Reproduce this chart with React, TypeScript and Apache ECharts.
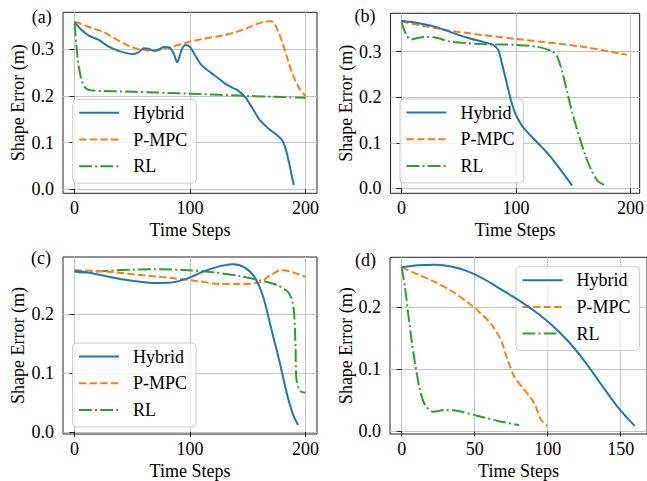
import React, { useEffect, useRef } from "react";
import * as echarts from "echarts";

const FONT = "'Liberation Serif', 'Times New Roman', Times, serif";
const COLORS = ["#1f77b4", "#ff7f0e", "#2ca02c"];
const seriesNames = ["Hybrid", "P-MPC", "RL"];
const panelLabels = ["(a)", "(b)", "(c)", "(d)"];

// tick labels
const xTicksA = [0, 100, 200];
const xTicksB = [0, 100, 200];
const xTicksC = [0, 100, 200];
const xTicksD = [0, 50, 100, 150];
const yTicksA = [0, 0.1, 0.2, 0.3];
const yTicksB = [0, 0.1, 0.2, 0.3];
const yTicksC = [0, 0.1, 0.2];
const yTicksD = [0, 0.1, 0.2];

// (a)
const aHybrid = [[0,0.358],[5,0.344],[12,0.330],[21,0.320],[30,0.305],[40,0.295],[50,0.290],[55,0.293],[60,0.302],[64,0.301],[68,0.297],[73,0.300],[78,0.305],[83,0.302],[86,0.290],[89,0.272],[91,0.285],[93,0.300],[96,0.309],[100,0.305],[105,0.285],[110,0.266],[118,0.250],[125,0.237],[130,0.227],[135,0.220],[140,0.214],[144,0.207],[148,0.197],[152,0.182],[156,0.166],[160,0.150],[165,0.137],[170,0.126],[175,0.117],[180,0.104],[183,0.085],[186,0.055],[188,0.030],[190,0.009]];
const aPMPC = [[0,0.360],[10,0.350],[25,0.337],[40,0.316],[53,0.302],[62,0.298],[69,0.297],[78,0.302],[85,0.306],[98,0.315],[112,0.323],[127,0.329],[140,0.337],[150,0.346],[158,0.354],[164,0.359],[170,0.360],[173,0.356],[176,0.340],[180,0.315],[185,0.275],[190,0.240],[195,0.215],[200,0.200]];
const aRL = [[0,0.355],[1.5,0.310],[3,0.275],[5,0.245],[7,0.228],[10,0.216],[14,0.212],[50,0.209],[100,0.205],[150,0.200],[200,0.196]];

// (b)
const bHybrid = [[0,0.368],[14,0.363],[29,0.355],[43,0.343],[57,0.331],[72,0.321],[80,0.315],[84.5,0.304],[87.4,0.278],[91.7,0.234],[96,0.190],[100,0.161],[106,0.135],[115,0.110],[129,0.073],[140,0.037],[149,0.006]];
const bPMPC = [[0,0.366],[43,0.346],[100,0.328],[158,0.311],[197,0.293]];
const bRL = [[0,0.366],[4.3,0.337],[8.6,0.327],[14,0.330],[23,0.3325],[31.5,0.330],[43,0.322],[72,0.3165],[100,0.315],[120,0.310],[132,0.300],[136,0.289],[140.4,0.256],[144.7,0.212],[149,0.168],[154.8,0.117],[160.5,0.073],[166.3,0.037],[172,0.0145],[177.3,0.007]];

// (c)
const cHybrid = [[0,0.274],[11.6,0.2714],[40.5,0.260],[69.4,0.2535],[84,0.2543],[98,0.2613],[113,0.274],[127,0.2826],[137,0.2853],[147.5,0.2797],[156,0.263],[163.4,0.2295],[170.6,0.1737],[177.8,0.1178],[183.6,0.0675],[189.4,0.0285],[193.7,0.0117]];
const cPMPC = [[0,0.2752],[26,0.273],[55,0.2675],[84,0.2618],[104,0.2574],[127,0.2518],[145,0.2518],[160.5,0.2543],[169,0.2658],[179,0.2752],[185,0.274],[193.7,0.2685],[200,0.264]];
const cRL = [[0,0.273],[5.8,0.2714],[26,0.274],[69.4,0.2769],[98.3,0.2752],[121.4,0.2714],[141.6,0.2658],[161.8,0.2574],[176.3,0.249],[185,0.2379],[188.5,0.224],[190.2,0.2015],[191.4,0.1457],[192.2,0.090],[195,0.0703],[200,0.0665]];

// (d)
const dHybrid = [[0,0.2645],[11.3,0.2677],[22.7,0.2688],[34,0.266],[45.3,0.258],[56.7,0.245],[68,0.229],[79.3,0.213],[90.7,0.1946],[102,0.1733],[113.4,0.147],[124.7,0.115],[136,0.078],[147.4,0.041],[159.6,0.009]];
const dPMPC = [[0,0.2645],[11.3,0.2528],[22.7,0.241],[34,0.2264],[45.3,0.2078],[52.2,0.1946],[61.2,0.1733],[68,0.147],[72.6,0.115],[77.1,0.0886],[83.9,0.0674],[90.7,0.046],[95.2,0.0197],[99.7,0.009]];
const dRL = [[0,0.2645],[2.3,0.2316],[4.5,0.189],[6.8,0.147],[9.5,0.1045],[12.5,0.0674],[15.9,0.0435],[21.5,0.0318],[29.4,0.0345],[38.5,0.0329],[52.2,0.025],[65.8,0.017],[80.5,0.0101]];

const panels = [
  { grid: { left: 63, top: 12.3, width: 254, height: 181 }, x: [-10, 210], y: [-0.0086, 0.3793], xt: xTicksA, yt: yTicksA, data: [aHybrid, aPMPC, aRL], legend: { left: 72.7, top: 99.3 }, label: [41.7, 16.5], yGap: 36 },
  { grid: { left: 390.5, top: 13.3, width: 254, height: 180 }, x: [-9.5, 208], y: [-0.011, 0.3843], xt: xTicksB, yt: yTicksB, data: [bHybrid, bPMPC, bRL], legend: { left: 400, top: 99 }, label: [365, 16], yGap: 33 },
  { grid: { left: 63, top: 257, width: 254, height: 180 }, x: [-10, 210], y: [-0.0037, 0.2977], xt: xTicksC, yt: yTicksC, data: [cHybrid, cPMPC, cRL], legend: { left: 72.5, top: 343 }, label: [41, 258], yGap: 36 },
  { grid: { left: 390, top: 257.3, width: 259, height: 179 }, x: [-8, 168], y: [-0.0041, 0.2807], xt: xTicksD, yt: yTicksD, data: [dHybrid, dPMPC, dRL], legend: { left: 516, top: 266.7 }, label: [365.5, 259.7], yGap: 33 },
];

const dashTypes: any[] = ["solid", [7.4, 3.2], [12.8, 3.2, 2, 3.2]];

export default function App() {
  const ref = useRef<HTMLDivElement>(null);
  useEffect(() => {
    if (!ref.current) return;
    const chart = echarts.init(ref.current, undefined, { renderer: "svg" });
    const tickLine = { color: "#222", width: 1 };
    const option: any = {
      animation: false,
      textStyle: { fontFamily: FONT },
      grid: panels.map((p) => ({ ...p.grid, show: true, borderColor: "#222", borderWidth: 1, backgroundColor: "#fff", containLabel: false })),
      xAxis: panels.map((p, i) => ({
        type: "value",
        gridIndex: i,
        min: p.x[0],
        max: p.x[1],
        name: "Time Steps",
        nameLocation: "middle",
        nameGap: 28,
        nameTextStyle: { fontSize: 18, fontFamily: FONT, color: "#000" },
        axisLine: { show: false },
        axisTick: { show: true, length: 5, customValues: p.xt, lineStyle: tickLine },
        axisLabel: { customValues: p.xt, margin: 6, fontSize: 18, fontFamily: FONT, color: "#000", formatter: (v: number) => String(v) },
        splitLine: { show: true, lineStyle: { color: "#c4c4c4", width: 1 } },
      })),
      yAxis: panels.map((p, i) => ({
        type: "value",
        gridIndex: i,
        min: p.y[0],
        max: p.y[1],
        name: "Shape Error (m)",
        nameLocation: "middle",
        nameGap: p.yGap,
        nameTextStyle: { fontSize: 18, fontFamily: FONT, color: "#000" },
        axisLine: { show: false },
        axisTick: { show: true, length: 5, customValues: p.yt, lineStyle: tickLine },
        axisLabel: { customValues: p.yt, margin: 9, fontSize: 18, fontFamily: FONT, color: "#000", formatter: (v: number) => v.toFixed(1) },
        splitLine: { show: true, lineStyle: { color: "#c4c4c4", width: 1 } },
      })),
      legend: panels.map((p) => ({
        show: true,
        orient: "vertical",
        left: p.legend.left,
        top: p.legend.top,
        data: seriesNames,
        itemWidth: 40,
        itemHeight: 14,
        itemGap: 6.7,
        padding: [3.5, 9, 7, 5.5],
        backgroundColor: "rgba(255,255,255,0.8)",
        borderColor: "#cccccc",
        borderWidth: 1,
        borderRadius: 4,
        selectedMode: false,
        itemStyle: { opacity: 0, borderWidth: 0 },
        textStyle: { fontSize: 18, fontFamily: FONT, color: "#000", lineHeight: 20, padding: [0, 0, 0, 9] },
      })),
      series: panels.flatMap((p, i) =>
        p.data.map((d, k) => ({
          type: "line",
          name: seriesNames[k],
          xAxisIndex: i,
          yAxisIndex: i,
          data: d,
          symbol: "none",
          smooth: 0.3,
          color: COLORS[k],
          itemStyle: { color: COLORS[k] },
          lineStyle: { color: COLORS[k], width: 2, type: dashTypes[k] },
          z: 3 - k + 2,
        }))
      ),
      graphic: panels.map((p, i) => ({
        type: "text",
        x: p.label[0],
        y: p.label[1],
        style: { text: panelLabels[i], fontSize: 18, fontFamily: FONT, fill: "#000", align: "center", verticalAlign: "middle" },
      })),
    };
    chart.setOption(option);
    return () => chart.dispose();
  }, []);
  return <div ref={ref} style={{ position: "absolute", left: 0, top: 0, width: 647, height: 481 }} />;
}
